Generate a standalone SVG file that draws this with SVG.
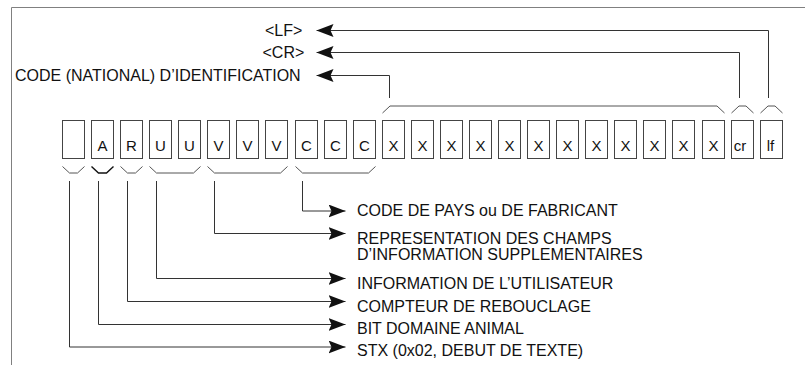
<svg xmlns="http://www.w3.org/2000/svg" width="805" height="365" viewBox="0 0 805 365">
<defs>
<style>
.frame{fill:none;stroke:#808080;stroke-width:1}
.box{fill:#fff;stroke:#444;stroke-width:1}
.br{fill:none;stroke:#555;stroke-width:1}
.ln{fill:none;stroke:#333;stroke-width:1;marker-end:url(#ah)}
.t{font-family:"Liberation Sans",Arial,sans-serif;font-size:16px;fill:#111}
.c{font-family:"Liberation Sans",Arial,sans-serif;font-size:15px;fill:#111;text-anchor:middle}
</style>
<marker id="ah" viewBox="0 0 17 13" refX="17" refY="6.5" markerWidth="17" markerHeight="13" markerUnits="userSpaceOnUse" orient="auto">
<path d="M0,0 L17,6.5 L0,13 L3,6.5 Z" fill="#111"/>
</marker>
</defs>
<rect width="805" height="365" fill="#fff"/>
<path class="frame" d="M11.5,365 V7.5 H805"/>

<g id="boxes">
<g id="b0"><rect class="box" x="62.5" y="120.5" width="22" height="38"/></g>
<g id="b1"><rect class="box" x="91.5" y="120.5" width="22" height="38"/><text class="c" x="102.5" y="150.5">A</text></g>
<g id="b2"><rect class="box" x="120.5" y="120.5" width="22" height="38"/><text class="c" x="131.5" y="150.5">R</text></g>
<g id="b3"><rect class="box" x="149.5" y="120.5" width="22" height="38"/><text class="c" x="160.5" y="150.5">U</text></g>
<g id="b4"><rect class="box" x="178.5" y="120.5" width="22" height="38"/><text class="c" x="189.5" y="150.5">U</text></g>
<g id="b5"><rect class="box" x="207.5" y="120.5" width="22" height="38"/><text class="c" x="218.5" y="150.5">V</text></g>
<g id="b6"><rect class="box" x="236.5" y="120.5" width="22" height="38"/><text class="c" x="247.5" y="150.5">V</text></g>
<g id="b7"><rect class="box" x="265.5" y="120.5" width="22" height="38"/><text class="c" x="276.5" y="150.5">V</text></g>
<g id="b8"><rect class="box" x="295.5" y="120.5" width="22" height="38"/><text class="c" x="306.5" y="150.5">C</text></g>
<g id="b9"><rect class="box" x="324.5" y="120.5" width="22" height="38"/><text class="c" x="335.5" y="150.5">C</text></g>
<g id="b10"><rect class="box" x="353.5" y="120.5" width="22" height="38"/><text class="c" x="364.5" y="150.5">C</text></g>
<g id="b11"><rect class="box" x="382.5" y="120.5" width="22" height="38"/><text class="c" x="393.5" y="150.5">X</text></g>
<g id="b12"><rect class="box" x="411.5" y="120.5" width="22" height="38"/><text class="c" x="422.5" y="150.5">X</text></g>
<g id="b13"><rect class="box" x="440.5" y="120.5" width="22" height="38"/><text class="c" x="451.5" y="150.5">X</text></g>
<g id="b14"><rect class="box" x="469.5" y="120.5" width="22" height="38"/><text class="c" x="480.5" y="150.5">X</text></g>
<g id="b15"><rect class="box" x="498.5" y="120.5" width="22" height="38"/><text class="c" x="509.5" y="150.5">X</text></g>
<g id="b16"><rect class="box" x="527.5" y="120.5" width="22" height="38"/><text class="c" x="538.5" y="150.5">X</text></g>
<g id="b17"><rect class="box" x="556.5" y="120.5" width="22" height="38"/><text class="c" x="567.5" y="150.5">X</text></g>
<g id="b18"><rect class="box" x="585.5" y="120.5" width="22" height="38"/><text class="c" x="596.5" y="150.5">X</text></g>
<g id="b19"><rect class="box" x="614.5" y="120.5" width="22" height="38"/><text class="c" x="625.5" y="150.5">X</text></g>
<g id="b20"><rect class="box" x="643.5" y="120.5" width="22" height="38"/><text class="c" x="654.5" y="150.5">X</text></g>
<g id="b21"><rect class="box" x="672.5" y="120.5" width="22" height="38"/><text class="c" x="683.5" y="150.5">X</text></g>
<g id="b22"><rect class="box" x="702.5" y="120.5" width="22" height="38"/><text class="c" x="713.5" y="150.5">X</text></g>
<g id="b23"><rect class="box" x="731.5" y="120.5" width="22" height="38"/><text class="c" x="740" y="151">cr</text></g>
<g id="b24"><rect class="box" x="760.5" y="120.5" width="22" height="38"/><text class="c" x="770.5" y="150.5">lf</text></g>
</g>

<g id="braces">
<path class="br" d="M62.5,166.5 L69.5,173 L77.5,173 L84.5,166.5"/>
<path class="br" d="M91.5,166.5 L98.5,173 L106.5,173 L113.5,166.5" style="stroke:#111;stroke-width:1.4"/>
<path class="br" d="M120.5,166.5 L127.5,173 L135.5,173 L142.5,166.5"/>
<path class="br" d="M149.5,166.5 L156.5,173 L193.5,173 L200.5,166.5"/>
<path class="br" d="M207.5,166.5 L214.5,173 L280.5,173 L287.5,166.5"/>
<path class="br" d="M295.5,166.5 L302.5,173 L368.5,173 L375.5,166.5"/>
<path class="br" d="M382.5,113 L390,106 L717,106 L724.5,113"/>
<path class="br" d="M731.5,113 L739,106 L746,106 L753.5,113"/>
<path class="br" d="M760.5,113 L768,106 L775,106 L782.5,113"/>
</g>

<g id="connectors">
<path class="ln" d="M768.5,98 V30.5 H316.5"/>
<path class="ln" d="M739.5,98 V52.5 H316.5"/>
<path class="ln" d="M389.5,98 V75.5 H316.5"/>
<path class="ln" d="M302.5,181 V211 H345.5"/>
<path class="ln" d="M214.5,181 V233.5 H345.5"/>
<path class="ln" d="M156.5,181 V278.5 H345.5"/>
<path class="ln" d="M127.5,181 V301.5 H345.5"/>
<path class="ln" d="M98.5,181 V324.5 H345.5"/>
<path class="ln" d="M69.5,181 V347 H345.5"/>
</g>

<g id="labels">
<g id="lbl-lf"><text class="t" x="265" y="36">&lt;LF&gt;</text></g>
<g id="lbl-cr"><text class="t" x="262.5" y="58">&lt;CR&gt;</text></g>
<g id="lbl-code"><text class="t" x="15" y="80.5">CODE (NATIONAL) D’IDENTIFICATION</text></g>
<g id="lbl-pays"><text class="t" x="357" y="216">CODE DE PAYS ou DE FABRICANT</text></g>
<g id="lbl-repr"><text class="t" x="357" y="244">REPRESENTATION DES CHAMPS</text><text class="t" x="357" y="259.5">D’INFORMATION SUPPLEMENTAIRES</text></g>
<g id="lbl-info"><text class="t" x="357" y="289">INFORMATION DE L’UTILISATEUR</text></g>
<g id="lbl-comp"><text class="t" x="357" y="311.5">COMPTEUR DE REBOUCLAGE</text></g>
<g id="lbl-bit"><text class="t" x="357" y="334">BIT DOMAINE ANIMAL</text></g>
<g id="lbl-stx"><text class="t" x="357" y="356">STX (0x02, DEBUT DE TEXTE)</text></g>
</g>
</svg>
